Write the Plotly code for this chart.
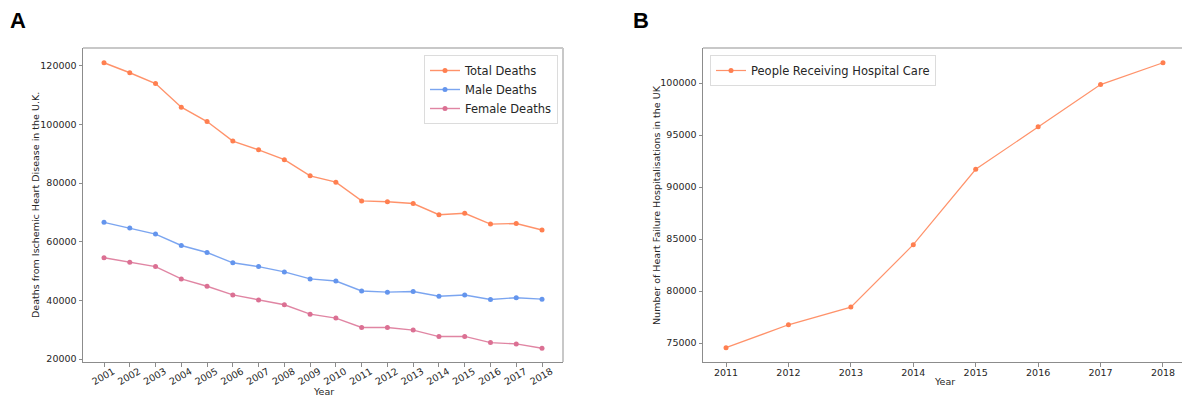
import plotly.graph_objects as go

# ---------------- data ----------------
years_a = [2001, 2002, 2003, 2004, 2005, 2006, 2007, 2008, 2009,
           2010, 2011, 2012, 2013, 2014, 2015, 2016, 2017, 2018]
total_deaths = [121000, 117600, 113900, 105850, 100950, 94300, 91300, 87950, 82450,
                80300, 73900, 73600, 73000, 69200, 69700, 66000, 66200, 64000]
male_deaths = [66600, 64700, 62600, 58700, 56300, 52800, 51500, 49700, 47300,
               46600, 43200, 42800, 43000, 41400, 41800, 40300, 40900, 40400]
female_deaths = [54500, 53000, 51500, 47300, 44800, 41850, 40100, 38500, 35300,
                 33950, 30750, 30750, 29850, 27650, 27700, 25600, 25150, 23650]

years_b = [2011, 2012, 2013, 2014, 2015, 2016, 2017, 2018]
hospital_care = [74550, 76750, 78450, 84450, 91700, 95800, 99850, 101950]

y_ticks_a = [20000, 40000, 60000, 80000, 100000, 120000]
y_ticks_b = [75000, 80000, 85000, 90000, 95000, 100000]

# ---------------- figure geometry (pixels) ----------------
W, H = 1182, 398
def px(x):
    return x / W
def py(y):
    return 1 - y / H

A_L, A_R, TOP, BOT = 83, 563, 48, 362
B_L = 703

TICK_FONT = dict(family="DejaVu Sans", size=9.5, color="#262626")
AXIS_DARK = "#8c8c8c"
AXIS_LIGHT = "#c8c8c8"

fig = go.Figure()

def add_series(x, y, name, color, line_rgba, width, msize, xa, ya, legend):
    fig.add_trace(go.Scatter(
        x=x, y=y, name=name, mode="lines+markers",
        line=dict(color=line_rgba, width=width),
        marker=dict(color=color, size=msize),
        xaxis=xa, yaxis=ya, legend=legend,
    ))

add_series(years_a, total_deaths, "Total Deaths", "#ff7f50", "rgba(255,127,80,0.85)", 1.4, 5, "x", "y", "legend")
add_series(years_a, male_deaths, "Male Deaths", "#6495ed", "rgba(100,149,237,0.85)", 1.4, 5, "x", "y", "legend")
add_series(years_a, female_deaths, "Female Deaths", "#db7093", "rgba(219,112,147,0.85)", 1.4, 5, "x", "y", "legend")
add_series(years_b, hospital_care, "People Receiving Hospital Care", "#ff7f50", "rgba(255,127,80,0.85)", 1.2, 5, "x2", "y2", "legend2")

common_axis = dict(showgrid=False, zeroline=False, showline=True, linecolor=AXIS_DARK,
                   linewidth=1, ticks="outside", ticklen=3.5, tickcolor=AXIS_DARK,
                   tickfont=TICK_FONT, automargin=False)

fig.update_layout(
    width=W, height=H,
    margin=dict(l=0, r=0, t=0, b=0, autoexpand=False),
    paper_bgcolor="white", plot_bgcolor="white",
    font=dict(family="DejaVu Sans", color="#262626"),
    showlegend=True,
    xaxis=dict(domain=[px(A_L), px(A_R)], anchor="y",
               range=[2001 - 21 / 25.76, 2018 + 21 / 25.76],
               tickvals=years_a, ticktext=[str(v) for v in years_a],
               tickangle=-30, ticklabelshift=9, ticklabelstandoff=-4, **common_axis),
    yaxis=dict(domain=[py(BOT), py(TOP)], anchor="x",
               range=[18980, 126030], tickvals=y_ticks_a,
               ticktext=[str(v) for v in y_ticks_a], **common_axis),
    xaxis2=dict(domain=[px(B_L), 1.0], anchor="y2",
                range=[2011 - 23 / 62.4, 2018 + 19 / 62.4],
                tickvals=years_b, ticktext=[str(v) for v in years_b],
                ticklabelstandoff=-2, **common_axis),
    yaxis2=dict(domain=[py(BOT), py(TOP)], anchor="x2",
                range=[73173, 103365], tickvals=y_ticks_b,
                ticktext=[str(v) for v in y_ticks_b], **common_axis),
    legend=dict(x=px(558), y=py(55), xanchor="right", yanchor="top",
                bgcolor="white", bordercolor="#dcdcdc", borderwidth=1,
                font=dict(family="DejaVu Sans", size=11.5, color="#262626"),
                itemwidth=30, tracegroupgap=0),
    legend2=dict(x=px(710), y=py(55), xanchor="left", yanchor="top",
                 bgcolor="white", bordercolor="#dcdcdc", borderwidth=1,
                 font=dict(family="DejaVu Sans", size=11.5, color="#262626"),
                 itemwidth=30),
)

# light top / right spines
shapes = [
    dict(type="line", xref="paper", yref="paper", x0=px(A_L), x1=px(A_R), y0=py(TOP), y1=py(TOP),
         line=dict(color=AXIS_LIGHT, width=2)),
    dict(type="line", xref="paper", yref="paper", x0=px(A_R), x1=px(A_R), y0=py(TOP), y1=py(BOT),
         line=dict(color=AXIS_LIGHT, width=2)),
    dict(type="line", xref="paper", yref="paper", x0=px(B_L), x1=1.0, y0=py(TOP), y1=py(TOP),
         line=dict(color=AXIS_LIGHT, width=2)),
]
fig.update_layout(shapes=shapes)

ann_font = dict(family="DejaVu Sans", size=9.5, color="#262626")
def ann(text, x, y, font, angle=0):
    return dict(text=text, x=px(x), y=py(y), xref="paper", yref="paper", showarrow=False,
                xanchor="center", yanchor="middle", textangle=angle, font=font)

letter_font = dict(family="Liberation Sans", size=22, color="black")
annotations = [
    ann("<b>A</b>", 18, 20, letter_font),
    ann("<b>B</b>", 641, 20, letter_font),
    ann("Deaths from Ischemic Heart Disease in the U.K.", 36, 205, ann_font, -90),
    ann("Year", 323, 391, ann_font),
    ann("Number of Heart Failure Hospitalisations in the UK", 657, 205, ann_font, -90),
    ann("Year", 944, 381, ann_font),
]
fig.update_layout(annotations=annotations)

fig.write_html(
    "out.html",
    config={"displayModeBar": False},
    post_script="document.body.style.margin='0';document.body.style.overflow='hidden';",
)
